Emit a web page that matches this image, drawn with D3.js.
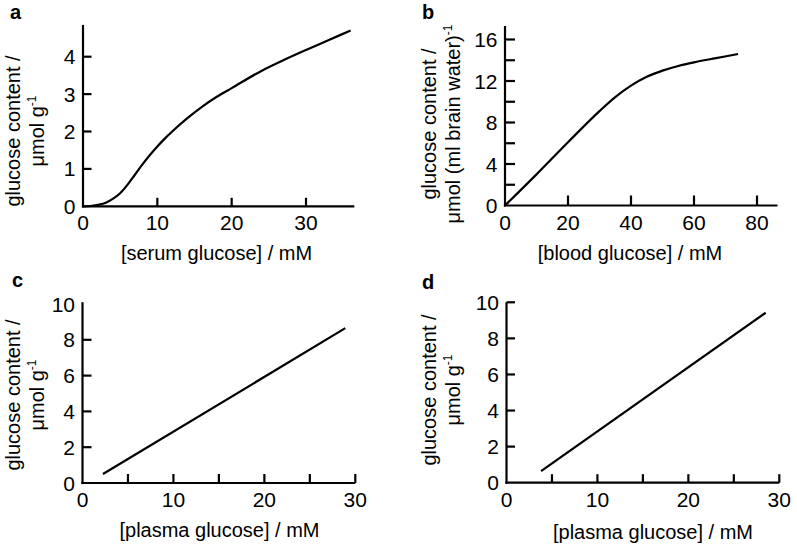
<!DOCTYPE html>
<html>
<head>
<meta charset="utf-8">
<script src="https://cdn.jsdelivr.net/npm/d3@7"></script>
<style>
  html, body { margin: 0; padding: 0; background: #fff; }
  svg { display: block; }
  text { font-family: "Liberation Sans", Arial, sans-serif; fill: #000; }
</style>
</head>
<body>
<svg id="chart" width="797" height="544"></svg>
<script>
// ---------------- DATA ----------------
const panelLetters = ["a", "b", "c", "d"];
const xTitles = ["[serum glucose] / mM", "[blood glucose] / mM", "[plasma glucose] / mM", "[plasma glucose] / mM"];
const yTitleLine1 = "glucose content /";
const yTitleLine2 = ["μmol g", "μmol (ml brain water)", "μmol g", "μmol g"];
const yTitleSup = "-1";

// panel a: serum glucose vs brain glucose content
const serumA = [0, 1, 2, 3, 4, 5, 6, 7, 8, 9, 10, 11, 12, 14, 16, 18, 20, 24, 27, 30, 33, 36];
const contentA = [0, 0.008, 0.04, 0.09, 0.2, 0.35, 0.58, 0.85, 1.12, 1.37, 1.60, 1.81, 2.00, 2.35, 2.66, 2.93, 3.16, 3.62, 3.91, 4.18, 4.44, 4.70];
// panel b: blood glucose vs glucose content per ml brain water
const bloodB = [0, 10, 20, 30, 35, 40, 45, 50, 55, 60, 67, 74];
const contentB = [0, 3.0, 6.1, 9.1, 10.45, 11.55, 12.4, 13.0, 13.45, 13.8, 14.2, 14.6];
// panel c and d: plasma glucose vs content (linear)
const plasmaC = [2.25, 28.9];
const contentC = [0.5, 8.65];
const plasmaD = [3.8, 28.5];
const contentD = [0.64, 9.42];

// ticks and labels
const xTickMarks = [[10, 20, 30], [20, 40, 60, 80], [5, 10, 15, 20, 25, 30], [5, 10, 15, 20, 25, 30]];
const xTickLabels = [[0, 10, 20, 30], [0, 20, 40, 60, 80], [0, 10, 20, 30], [0, 10, 20, 30]];
const yTickMarks = [[1, 2, 3, 4], [2, 4, 6, 8, 10, 12, 14, 16], [2, 4, 6, 8], [2, 4, 6, 8, 10]];
const yTickLabels = [[0, 1, 2, 3, 4], [0, 4, 8, 12, 16], [0, 2, 4, 6, 8, 10], [0, 2, 4, 6, 8, 10]];

// ---------------- LAYOUT ----------------
const layout = [
  { xd: [0, 30], xr: [83, 306], xEnd: 36.5, yd: [0, 4], yr: [206.3, 56.7], yTop: 4.85,
    letter: [10, 19], xTitle: [216.5, 259.5], yTitleX: [20, 44], yTitleY: 131, tick: 8.5 },
  { xd: [0, 80], xr: [505, 757], xEnd: 86.5, yd: [0, 16], yr: [205.5, 39.5], yTop: 17.3,
    letter: [422, 18.5], xTitle: [630, 259.5], yTitleX: [436, 460], yTitleY: 124, tick: 10 },
  { xd: [0, 30], xr: [82.5, 355.3], xEnd: 30, yd: [0, 10], yr: [483, 304], yTop: 10.1,
    letter: [12, 287], xTitle: [219.5, 537], yTitleX: [20, 44], yTitleY: 395, tick: 9 },
  { xd: [0, 30], xr: [506.5, 779.3], xEnd: 30, yd: [0, 10], yr: [482.7, 302.3], yTop: 10,
    letter: [422, 289], xTitle: [653, 539], yTitleX: [436, 460], yTitleY: 390, tick: 8.5 }
];
const seriesX = [serumA, bloodB, plasmaC, plasmaD];
const seriesY = [contentA, contentB, contentC, contentD];

const svg = d3.select("#chart");
svg.append("rect").attr("width", 797).attr("height", 544).attr("fill", "#fff");

const SW = 2.2;

layout.forEach((L, i) => {
  const x = d3.scaleLinear().domain(L.xd).range(L.xr);
  const y = d3.scaleLinear().domain(L.yd).range(L.yr);
  const g = svg.append("g");

  // axes lines
  g.append("line")
    .attr("x1", x(0) - SW / 2).attr("x2", x(L.xEnd))
    .attr("y1", y(0)).attr("y2", y(0))
    .attr("stroke", "#000").attr("stroke-width", SW);
  g.append("line")
    .attr("x1", x(0)).attr("x2", x(0))
    .attr("y1", y(0) + SW / 2).attr("y2", y(L.yTop))
    .attr("stroke", "#000").attr("stroke-width", SW);

  // x ticks (inward)
  g.selectAll(".xt").data(xTickMarks[i]).enter().append("line")
    .attr("x1", d => x(d)).attr("x2", d => x(d))
    .attr("y1", y(0)).attr("y2", y(0) - L.tick)
    .attr("stroke", "#000").attr("stroke-width", SW);
  // y ticks (inward)
  g.selectAll(".yt").data(yTickMarks[i]).enter().append("line")
    .attr("x1", x(0)).attr("x2", x(0) + L.tick)
    .attr("y1", d => y(d)).attr("y2", d => y(d))
    .attr("stroke", "#000").attr("stroke-width", SW);

  // tick labels
  g.selectAll(".xl").data(xTickLabels[i]).enter().append("text")
    .attr("x", d => x(d)).attr("y", y(0) + 24)
    .attr("text-anchor", "middle").attr("font-size", 21)
    .text(d => d);
  g.selectAll(".yl").data(yTickLabels[i]).enter().append("text")
    .attr("x", x(0) - 7.5).attr("y", d => y(d))
    .attr("dy", "0.36em")
    .attr("text-anchor", "end").attr("font-size", 21)
    .text(d => d);

  // curve
  const pts = seriesX[i].map((v, k) => [v, seriesY[i][k]]);
  g.append("path")
    .datum(pts)
    .attr("d", d3.line().x(d => x(d[0])).y(d => y(d[1])).curve(d3.curveMonotoneX))
    .attr("fill", "none").attr("stroke", "#000").attr("stroke-width", SW)
    .attr("stroke-linejoin", "round");

  // panel letter
  svg.append("text")
    .attr("x", L.letter[0]).attr("y", L.letter[1])
    .attr("font-size", 20).attr("font-weight", "bold")
    .text(panelLetters[i]);

  // x title
  svg.append("text")
    .attr("x", L.xTitle[0]).attr("y", L.xTitle[1])
    .attr("text-anchor", "middle").attr("font-size", 20)
    .text(xTitles[i]);

  // y title (two rotated lines)
  svg.append("text")
    .attr("transform", `translate(${L.yTitleX[0]},${L.yTitleY}) rotate(-90)`)
    .attr("text-anchor", "middle").attr("font-size", 20)
    .text(yTitleLine1);
  const t2 = svg.append("text")
    .attr("transform", `translate(${L.yTitleX[1]},${L.yTitleY}) rotate(-90)`)
    .attr("text-anchor", "middle").attr("font-size", 20);
  t2.append("tspan").text(yTitleLine2[i]);
  t2.append("tspan").attr("font-size", 12).attr("dy", -8).text(yTitleSup);
});
</script>
</body>
</html>
